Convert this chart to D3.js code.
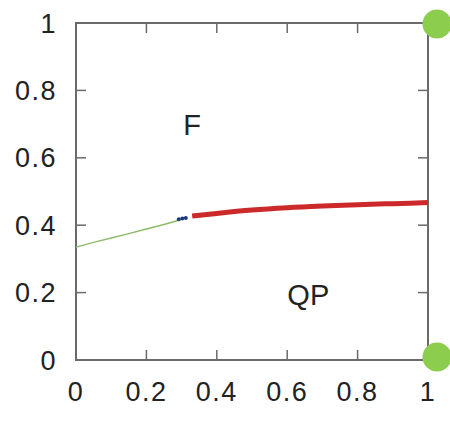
<!DOCTYPE html>
<html>
<head>
<meta charset="utf-8">
<script src="https://cdn.jsdelivr.net/npm/d3@7"></script>
<style>
  body { margin: 0; background: #fff; }
  svg text { font-family: "Liberation Sans", Arial, sans-serif; fill: #222; }
</style>
</head>
<body>
<svg id="chart" width="450" height="432"></svg>
<script>
// data
const ticks = [0, 0.2, 0.4, 0.6, 0.8, 1];
const greenX = [0, 0.05, 0.1, 0.15, 0.2, 0.25, 0.29];
const greenY = [0.335, 0.349, 0.362, 0.375, 0.389, 0.402, 0.414];
const blueX = [0.292, 0.302, 0.312];
const blueY = [0.418, 0.42, 0.421];
const redX = [0.33, 0.4, 0.5, 0.6, 0.7, 0.8, 0.9, 1.0];
const redY = [0.427, 0.435, 0.445, 0.452, 0.457, 0.461, 0.464, 0.467];
const regionLabels = [
  { text: "F", x: 0.33, y: 0.7 },
  { text: "QP", x: 0.66, y: 0.195 }
];
const corners = [1, 0];

const svg = d3.select("#chart");
const mLeft = 76, mRight = 428, mTop = 23, mBottom = 360;

const x = d3.scaleLinear().domain([0, 1]).range([mLeft, mRight]);
const y = d3.scaleLinear().domain([0, 1]).range([mBottom, mTop]);

const axisColor = "#6a6a6a";

// ticks (inward, mirrored)
const tickLen = 10;
ticks.slice(1, -1).forEach(t => {
  svg.append("line").attr("x1", x(t)).attr("x2", x(t)).attr("y1", mBottom).attr("y2", mBottom - tickLen)
    .attr("stroke", axisColor).attr("stroke-width", 1.5);
  svg.append("line").attr("x1", x(t)).attr("x2", x(t)).attr("y1", mTop).attr("y2", mTop + tickLen)
    .attr("stroke", axisColor).attr("stroke-width", 1.5);
  svg.append("line").attr("x1", mLeft).attr("x2", mLeft + tickLen).attr("y1", y(t)).attr("y2", y(t))
    .attr("stroke", axisColor).attr("stroke-width", 1.5);
  svg.append("line").attr("x1", mRight).attr("x2", mRight - tickLen).attr("y1", y(t)).attr("y2", y(t))
    .attr("stroke", axisColor).attr("stroke-width", 1.5);
});

// frame
svg.append("rect")
  .attr("x", mLeft).attr("y", mTop)
  .attr("width", mRight - mLeft).attr("height", mBottom - mTop)
  .attr("fill", "none").attr("stroke", axisColor).attr("stroke-width", 2);

// tick labels
svg.selectAll(".xl").data(ticks).join("text")
  .attr("class", "xl")
  .attr("x", d => x(d))
  .attr("y", 401)
  .attr("text-anchor", "middle")
  .attr("font-size", 27)
  .attr("letter-spacing", 1.5)
  .text(d => d3.format("~g")(d));

svg.selectAll(".yl").data(ticks).join("text")
  .attr("class", "yl")
  .attr("x", 57)
  .attr("y", d => y(d) + 9.5)
  .attr("text-anchor", "end")
  .attr("font-size", 27)
  .attr("letter-spacing", 1.5)
  .text(d => d3.format("~g")(d));

// curves
const line = d3.line().x(d => x(d[0])).y(d => y(d[1]));

svg.append("path")
  .datum(greenX.map((v, i) => [v, greenY[i]]))
  .attr("d", line)
  .attr("fill", "none")
  .attr("stroke", "#8dbb6a")
  .attr("stroke-width", 1.5);

svg.append("path")
  .datum(redX.map((v, i) => [v, redY[i]]))
  .attr("d", line.curve(d3.curveMonotoneX))
  .attr("fill", "none")
  .attr("stroke", "#cc2a2a")
  .attr("stroke-width", 5);

svg.selectAll(".blue").data(blueX.map((v, i) => [v, blueY[i]])).join("circle")
  .attr("class", "blue")
  .attr("cx", d => x(d[0]))
  .attr("cy", d => y(d[1]))
  .attr("r", 2)
  .attr("fill", "#1f3a7a");

// region labels
svg.selectAll(".rl").data(regionLabels).join("text")
  .attr("class", "rl")
  .attr("x", d => x(d.x))
  .attr("y", d => y(d.y) + 11)
  .attr("text-anchor", "middle")
  .attr("font-size", 29)
  .text(d => d.text);

// green corner markers
svg.selectAll(".corner").data(corners).join("circle")
  .attr("class", "corner")
  .attr("cx", 437)
  .attr("cy", d => d === 1 ? 24 : 357)
  .attr("r", 14.5)
  .attr("fill", "#8ccd4e");
</script>
</body>
</html>
